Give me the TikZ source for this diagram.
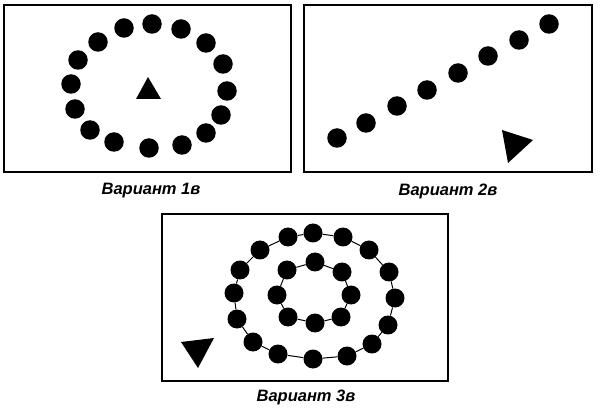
\documentclass[tikz,border=0pt]{standalone}
\usepackage{fontspec}
\setmainfont{Liberation Sans}
\begin{document}
\begin{tikzpicture}[x=1pt,y=-1pt,
 dot/.style={circle,fill=black,inner sep=0pt,minimum size=19.5pt},
 panel/.style={line width=2pt},
 caption/.style={font=\fontsize{16.5}{18}\selectfont\bfseries\itshape}]
 \useasboundingbox (0,0) rectangle (600,414);
 % variant 1
 \draw[panel] (4,5) rectangle (291,172);
 \foreach \x/\y [count=\i] in {152/24,181/29,206/43,223/64,227/91,221/115,206/133,182/145,
   149/148,114/142,90/130,75/109,71/84,78/60,98/42,124/28}
   \node[dot] (a\i) at (\x,\y) {};
 \fill (148,77)--(136,99)--(161,99)--cycle;
 \node[caption] (capa) at (151,191) {Вариант 1в};
 % variant 2
 \draw[panel] (304,5) rectangle (592,172);
 \foreach \x/\y [count=\i] in {337/138,366/123,397/106,427/90,458/73,488/56,519/40,549/24}
   \node[dot] (b\i) at (\x,\y) {};
 \fill (502,130)--(533,140)--(508,163)--cycle;
 \node[caption] (capb) at (448,191) {Вариант 2в};
 % variant 3
 \draw[panel] (162,214) rectangle (448,381);
 \foreach \x/\y [count=\i] in {313/233,343/237,369/250,389/272,395/298,388/325,372/344,347/356,
   313/359,278/354,253/342,237/319,234/293,240/270,260/250,288/237}
   \node[dot,minimum size=19pt] (c\i) at (\x,\y) {};
 \foreach \x/\y [count=\i] in {315/262,342/272,351/295,341/317,315/323,288/317,277/295,287/270}
   \node[dot,minimum size=19pt] (d\i) at (\x,\y) {};
 \foreach \i [evaluate=\i as \j using {int(mod(\i,16)+1)}] in {1,...,16}
   \draw[line width=1pt] (c\i) -- (c\j);
 \foreach \i [evaluate=\i as \j using {int(mod(\i,8)+1)}] in {1,...,8}
   \draw[line width=1pt] (d\i) -- (d\j);
 \fill (181,342)--(214,338)--(198,368)--cycle;
 \node[caption] (capc) at (306,397) {Вариант 3в};
\end{tikzpicture}
\end{document}
